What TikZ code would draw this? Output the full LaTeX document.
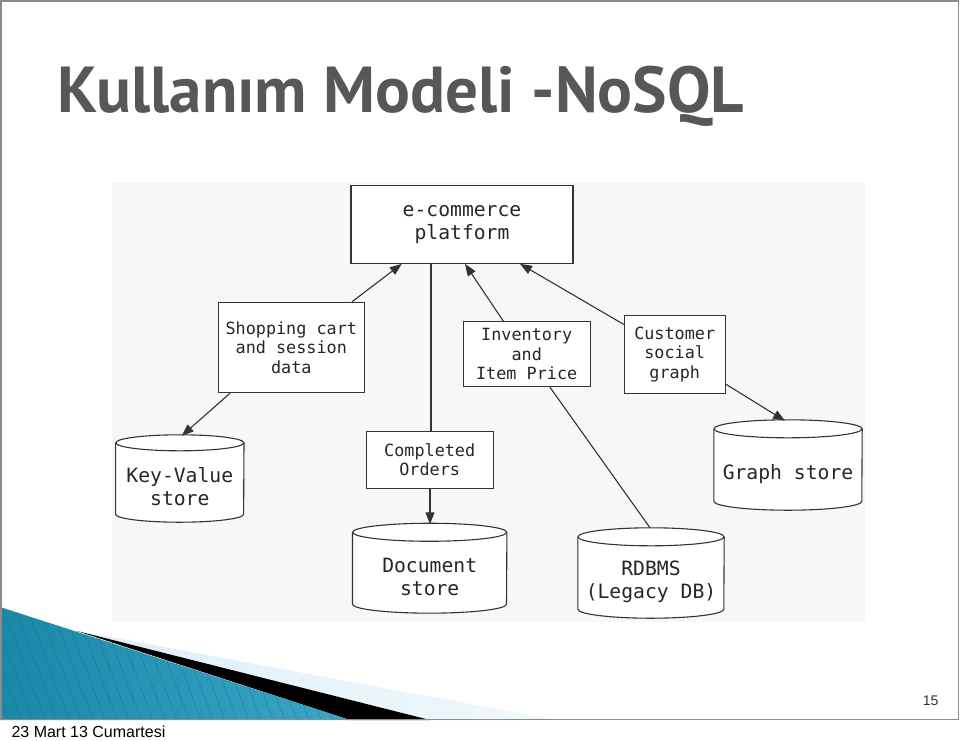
\documentclass[tikz,border=0pt]{standalone}
\usepackage{fontspec}
\setmainfont{Liberation Sans}
\newfontfamily\monof{DejaVu Sans Mono}
\newfontfamily\titlef{PT Sans}
\usetikzlibrary{arrows.meta}
\definecolor{titlegray}{HTML}{575757}
\definecolor{linegray}{HTML}{333333}
\definecolor{framegray}{HTML}{8C8C8C}
\definecolor{tealA}{HTML}{1C88A8}
\definecolor{tealB}{HTML}{78CFEA}
\definecolor{tealC}{HTML}{3AA6C8}
\definecolor{paleblue}{HTML}{DCEFF6}
\tikzset{
  box/.style={draw=linegray, line width=1.1pt, fill=white, inner sep=0pt, align=center,
    text=black!85, font=\monof\fontsize{16.8}{19.5}\selectfont},
  bigbox/.style={box, font=\monof\fontsize{19.7}{22.5}\selectfont},
  cyltext/.style={inner sep=0pt, align=center, text=black!85,
    font=\monof\fontsize{19.7}{23}\selectfont},
  cylline/.style={draw=linegray, line width=1.1pt},
  conn/.style={draw=linegray, line width=1.1pt},
  arr/.style={conn, -{Triangle[length=12pt,width=9pt]}},
}
% name, cx, top-centre y, bottom-centre y, width, ry, height(bot-top), text
\newcommand\dbcyl[8]{%
  \fill[white] ([yshift=#6pt]#1.north west) -- ([yshift=#6pt]#1.south west)
     arc[start angle=180,end angle=360,x radius=#5pt/2,y radius=#6pt]
     -- ([yshift=#6pt]#1.north east)
     arc[start angle=0,end angle=180,x radius=#5pt/2,y radius=#6pt] -- cycle;
  \draw[cylline] ([yshift=#6pt]#1.north) ellipse [x radius=#5pt/2, y radius=#6pt];
  \draw[cylline] ([yshift=#6pt]#1.north west) -- ([yshift=#6pt]#1.south west)
     arc[start angle=180,end angle=360,x radius=#5pt/2,y radius=#6pt]
     -- ([yshift=#6pt]#1.north east);
  \node[cyltext, minimum width=#5pt, minimum height=#7pt] at (#1) {#8};
}
\begin{document}
\begin{tikzpicture}[x=1pt,y=-1pt]
\useasboundingbox (0,0) rectangle (960,740);
\fill[white] (0,0) rectangle (960,740);

% bottom-left decoration
\shade[left color=paleblue, right color=paleblue!40!white] (77,631) -- (557,720) -- (430,720) -- cycle;
\fill[black] (77,631) -- (430,720) -- (350,720) -- cycle;
\begin{scope}
  \clip (0,607) -- (350,720) -- (0,720) -- cycle;
  \shade[left color=tealA, middle color=tealB, right color=tealC] (0,600) rectangle (350,720);
  \foreach \s in {-300,-288,...,360}
    \draw[tealA!60!black, opacity=0.3, line width=0.6pt] (\s,600) -- (\s+45,720);
\end{scope}

% slide frame
\draw[framegray, line width=1.5pt] (1,1) rectangle (958.5,719.5);

% title
\node[anchor=base west, font=\titlef\bfseries\fontsize{65}{65}\selectfont, text=titlegray] (title) at (54,112) {Kullanım Modeli -NoSQL};

% diagram background
\fill[black!3] (112,183) rectangle (865,622);

% boxes
\node[bigbox, minimum width=222pt, minimum height=77.6pt] (ecom) at (462,224.5) {e-commerce\\platform};
\node[box, minimum width=146pt, minimum height=90.4pt] (shop) at (291.3,347.5) {Shopping cart\\and session\\data};
\node[box, minimum width=126.7pt, minimum height=65pt] (inv) at (526.7,354.2) {Inventory\\and\\Item Price};
\node[box, minimum width=100.7pt, minimum height=78pt] (cust) at (674.7,354.3) {Customer\\social\\graph};
\node[box, minimum width=127.3pt, minimum height=57.3pt] (comp) at (429.7,459.7) {Completed\\Orders};

% cylinders (anchor node spans body below top ellipse)
\node[inner sep=0pt, minimum width=128pt, minimum height=71pt] (kv) at (179.8,486.5) {};
\dbcyl{kv}{179.8}{443}{514}{128}{8}{71}{Key-Value\\store}
\node[inner sep=0pt, minimum width=154pt, minimum height=71.5pt] (doc) at (429.7,577.2) {};
\dbcyl{doc}{429.7}{532.5}{604}{154}{9}{71.5}{Document\\store}
\node[inner sep=0pt, minimum width=146pt, minimum height=72pt] (rdb) at (651,582) {};
\dbcyl{rdb}{651}{537}{609}{146}{9}{72}{RDBMS\\(Legacy DB)}
\node[inner sep=0pt, minimum width=148pt, minimum height=72pt] (gph) at (788,474) {};
\dbcyl{gph}{788}{429}{501}{148}{9}{72}{Graph store}

% connectors
\draw[arr] ([xshift=60.7pt]shop.north) -- ([xshift=-60.2pt]ecom.south);
\draw[conn] ([xshift=-31pt]ecom.south) -- ([xshift=1.3pt]comp.north);
\draw[arr] ([xshift=0.3pt]comp.south) -- ([xshift=0.3pt,yshift=17pt]doc.north);
\draw[arr] ([xshift=-23.4pt]inv.north) -- ([xshift=3pt]ecom.south);
\draw[arr] ([yshift=-9.7pt]cust.north west) -- ([xshift=58pt]ecom.south);
\draw[arr] ([yshift=-29.7pt]cust.east) -- ([xshift=-3pt,yshift=17pt]gph.north);
\draw[arr] ([xshift=-61.3pt]shop.south) -- ([xshift=1.9pt,yshift=15pt]kv.north);
\draw[conn] ([xshift=23.3pt]inv.south) -- ([xshift=-1pt,yshift=18pt]rdb.north);

% footer and page number
\node[anchor=base east, font=\fontsize{14}{14}\selectfont, text=black!80] (pnum) at (942,705) {15};
\node[anchor=base west, font=\fontsize{16}{16}\selectfont, text=black] (foot) at (8,737) {23 Mart 13 Cumartesi};
\end{tikzpicture}
\end{document}
